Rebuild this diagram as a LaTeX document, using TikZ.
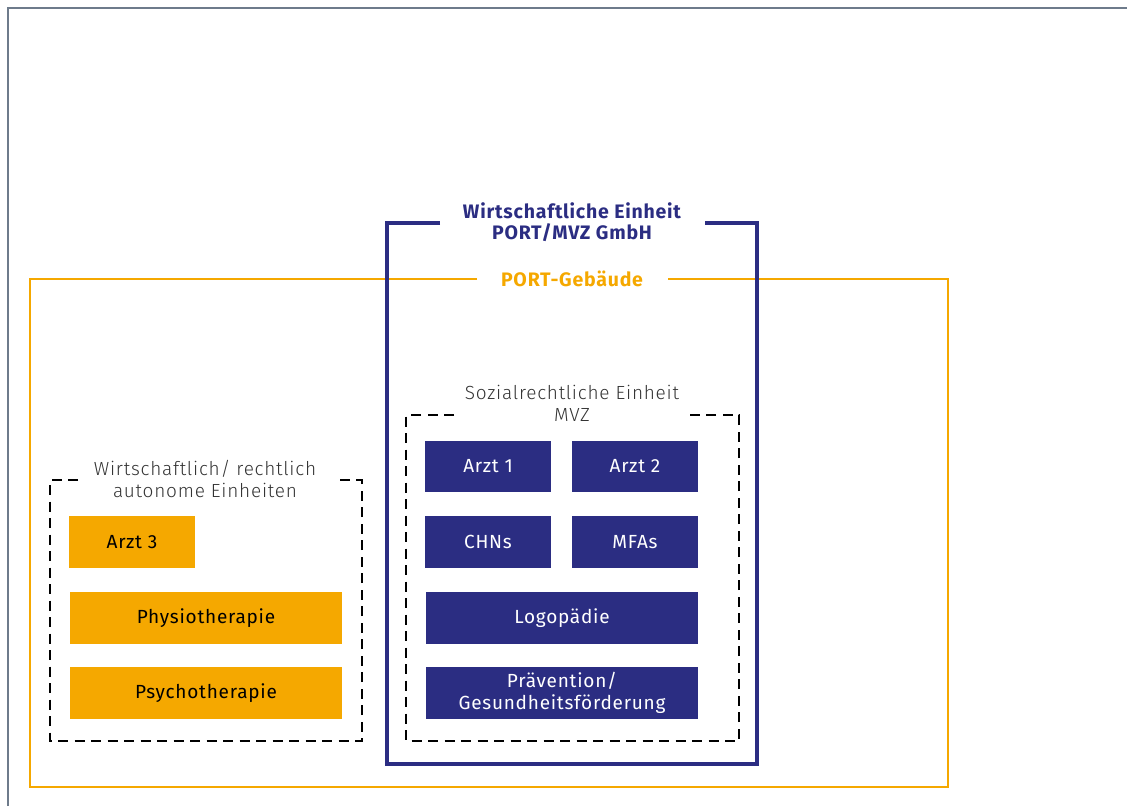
\documentclass[tikz,border=0pt]{standalone}
\usepackage{fontspec}
\setmainfont{Fira Sans}[LetterSpace=4]
\newfontfamily\lightfont{Fira Sans Light}[LetterSpace=4]
\definecolor{navy}{HTML}{2B2D82}
\definecolor{orng}{HTML}{F5A800}
\definecolor{frame}{HTML}{6E7B8B}
\definecolor{lbl}{HTML}{333333}
\begin{document}
\begin{tikzpicture}[x=1pt,y=-1pt,
  navybox/.style={fill=navy,draw=none,text=white,font=\fontsize{19}{21.5}\selectfont,align=center},
  orbox/.style={fill=orng,draw=none,text=black,font=\fontsize{19}{21.5}\selectfont,align=center},
  grouplbl/.style={text=lbl,font=\lightfont\fontsize{19}{21.5}\selectfont,align=center,inner sep=0pt},
  dashbox/.style={draw=black,line width=2.8pt,dash pattern=on 10pt off 6.5pt},
  titlelbl/.style={font=\bfseries\fontsize{19.5}{20.5}\selectfont,align=center,inner sep=0pt}]
\useasboundingbox (0,0) rectangle (1127,806);
% outer frame
\draw[frame,line width=2.2pt] (8,806) -- (8,8) -- (1127,8);
% orange building box
\node[titlelbl,text=orng] (geb) at (572,279) {PORT-Gebäude};
\draw[orng,line width=2.2pt] (477,279) -- (30,279) -- (30,787) -- (948,787) -- (948,279) -- (668,279);
% navy economic unit
\node[titlelbl,text=navy] (wirt) at (572,222) {Wirtschaftliche Einheit\\PORT/MVZ GmbH};
\draw[navy,line width=3.6pt] (440,223) -- (387,223) -- (387,764) -- (757,764) -- (757,223) -- (705,223);
% MVZ dashed box
\node[grouplbl] (mvzl) at (572,403.5) {Sozialrechtliche Einheit\\MVZ};
\draw[dashbox] (454,415) -- (406,415) -- (406,741) -- (739,741) -- (739,415) -- (690,415);
% left dashed box
\node[grouplbl] (autl) at (205,479) {Wirtschaftlich/ rechtlich\\autonome Einheiten};
\draw[dashbox] (78,480) -- (50,480) -- (50,741) -- (362,741) -- (362,480) -- (335,480);
% navy boxes
\node[navybox,minimum width=126pt,minimum height=51pt] (a1) at (488,466.5) {Arzt 1};
\node[navybox,minimum width=126pt,minimum height=51pt] (a2) at (635,466.5) {Arzt 2};
\node[navybox,minimum width=126pt,minimum height=52pt] (chn) at (488,542) {CHNs};
\node[navybox,minimum width=126pt,minimum height=52pt] (mfa) at (635,542) {MFAs};
\node[navybox,minimum width=272pt,minimum height=52pt] (logo) at (562,618) {Logopädie};
\node[navybox,minimum width=272pt,minimum height=52pt] (prae) at (562,693) {Prävention/\\Gesundheitsförderung};
% orange boxes
\node[orbox,minimum width=126pt,minimum height=52pt] (a3) at (132,542) {Arzt 3};
\node[orbox,minimum width=272pt,minimum height=52pt] (phys) at (206,618) {Physiotherapie};
\node[orbox,minimum width=272pt,minimum height=52pt] (psych) at (206,693) {Psychotherapie};
\end{tikzpicture}
\end{document}
